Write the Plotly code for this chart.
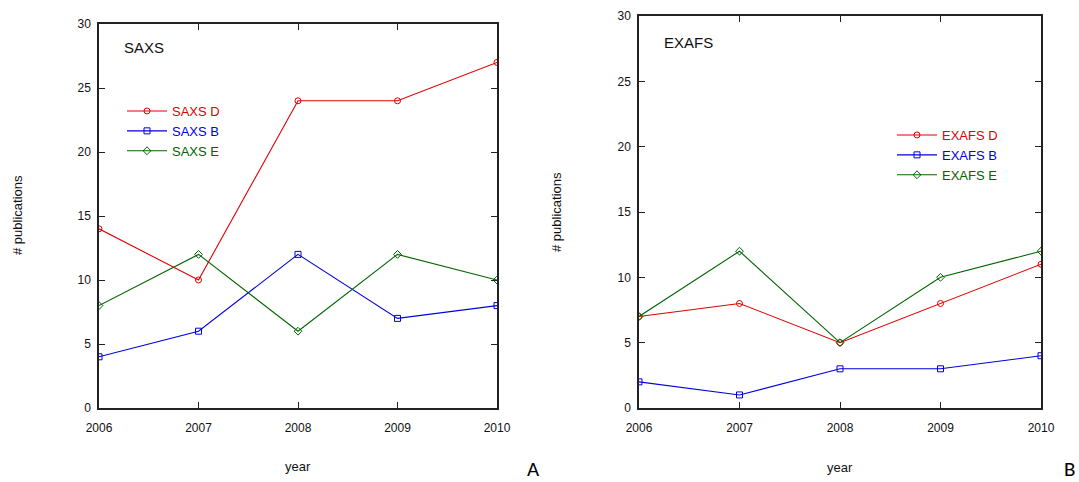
import plotly.graph_objects as go

years = [2006, 2007, 2008, 2009, 2010]
saxs_d = [14, 10, 24, 24, 27]
saxs_b = [4, 6, 12, 7, 8]
saxs_e = [8, 12, 6, 12, 10]
exafs_d = [7, 8, 5, 8, 11]
exafs_b = [2, 1, 3, 3, 4]
exafs_e = [7, 12, 5, 10, 12]

RED = "#e00000"
BLUE = "#0000e0"
GREEN = "#006400"
W, H = 1079, 482

fig = go.Figure()

def add(x, y, name, color, symbol, xa, ya, leg, width=1.1):
    fig.add_trace(go.Scatter(
        x=x, y=y, name=f'<span style="color:{color}">{name}</span>', mode="lines+markers",
        line=dict(color=color, width=width),
        marker=dict(symbol=symbol, size=6, color=color, line=dict(color=color, width=1)),
        xaxis=xa, yaxis=ya, legend=leg,
    ))

add(years, saxs_d, "SAXS D", RED, "circle-open", "x", "y", "legend")
add(years, saxs_b, "SAXS B", BLUE, "square-open", "x", "y", "legend")
add(years, saxs_e, "SAXS E", GREEN, "diamond-open", "x", "y", "legend")
add(years, exafs_d, "EXAFS D", RED, "circle-open", "x2", "y2", "legend2")
add(years, exafs_b, "EXAFS B", BLUE, "square-open", "x2", "y2", "legend2")
add(years, exafs_e, "EXAFS E", GREEN, "diamond-open", "x2", "y2", "legend2")

axis_common = dict(
    showgrid=False, zeroline=False, showline=True, linecolor="#222222", linewidth=1.5,
    mirror="ticks", ticks="inside", ticklen=6, tickcolor="#222222", tickwidth=1,
    tickfont=dict(family="Liberation Sans, Arial", size=12, color="#111111"),
    automargin=False,
)

fig.update_layout(
    width=W, height=H,
    margin=dict(l=0, r=0, t=0, b=0, autoexpand=False),
    paper_bgcolor="white", plot_bgcolor="white",
    font=dict(family="Liberation Sans, Arial", size=12, color="#111111"),
    xaxis=dict(domain=[99 / W, 497 / W], range=[2006, 2010], tickvals=years,
               ticklabelstandoff=8, anchor="y", **axis_common),
    yaxis=dict(domain=[1 - 408 / H, 1 - 24 / H], range=[0, 30], tickvals=[0, 5, 10, 15, 20, 25, 30],
               ticklabelstandoff=4, anchor="x", **axis_common),
    xaxis2=dict(domain=[639 / W, 1041 / W], range=[2006, 2010], tickvals=years,
                ticklabelstandoff=8, anchor="y2", **axis_common),
    yaxis2=dict(domain=[1 - 408 / H, 1 - 16 / H], range=[0, 30], tickvals=[0, 5, 10, 15, 20, 25, 30],
                ticklabelstandoff=4, anchor="x2", **axis_common),
    legend=dict(x=122 / W, y=1 - 131 / H, xanchor="left", yanchor="middle",
                bgcolor="rgba(0,0,0,0)", tracegroupgap=0, itemwidth=40,
                font=dict(size=13)),
    legend2=dict(x=892 / W, y=1 - 155 / H, xanchor="left", yanchor="middle",
                 bgcolor="rgba(0,0,0,0)", tracegroupgap=0, itemwidth=40,
                 font=dict(size=13)),
)

ann = [
    dict(text="SAXS", x=122, y=48, size=15),
    dict(text="EXAFS", x=662, y=42, size=15),
]
for a in ann:
    fig.add_annotation(text=a["text"], x=a["x"] / W, y=1 - a["y"] / H, xref="paper", yref="paper",
                       xanchor="left", yanchor="middle", showarrow=False, font=dict(size=a["size"], color="#111111"))

for x, y in [(298, 466), (840, 467)]:
    fig.add_annotation(text="year", x=x / W, y=1 - y / H, xref="paper", yref="paper",
                       xanchor="center", yanchor="middle", showarrow=False, font=dict(size=13))
for x, y in [(18, 215), (556, 212)]:
    fig.add_annotation(text="# publications", x=x / W, y=1 - y / H, xref="paper", yref="paper",
                       xanchor="center", yanchor="middle", showarrow=False, textangle=-90, font=dict(size=13))
for t, x, y in [("A", 533, 469), ("B", 1069, 469)]:
    fig.add_annotation(text=t, x=x / W, y=1 - y / H, xref="paper", yref="paper",
                       xanchor="center", yanchor="middle", showarrow=False,
                       font=dict(size=21, family="Carlito, Liberation Sans", color="#000000"))

fig.write_html("out.html", config={"displayModeBar": False},
               post_script="document.body.style.margin='0';document.documentElement.style.overflow='hidden';")
